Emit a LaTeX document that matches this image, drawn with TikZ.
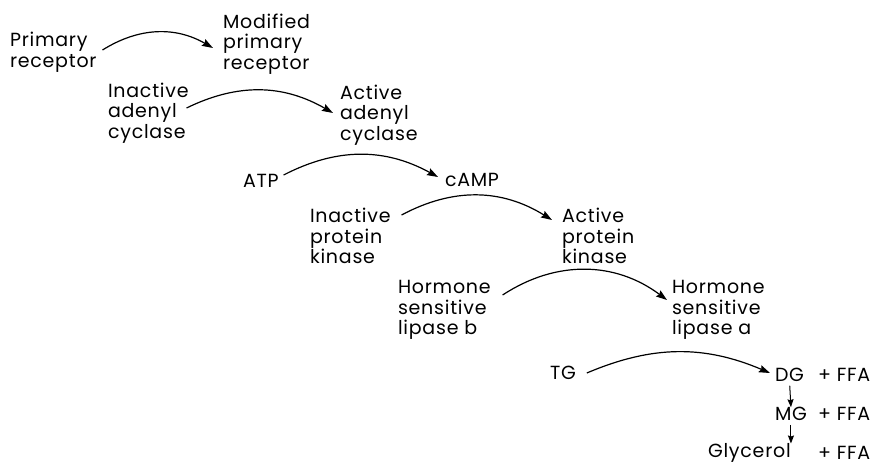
\documentclass[tikz,border=0pt]{standalone}
\usepackage{fontspec}
\setmainfont{Poppins}[LetterSpace=4]
\usetikzlibrary{arrows.meta}
\begin{document}
\begin{tikzpicture}[x=1pt, y=-1pt,
		lbl/.style={align=left, anchor=west, inner sep=0pt, outer sep=0pt, font=\fontsize{19}{20.5}\selectfont},
		react/.style={-{Stealth[length=11pt, width=7.5pt, inset=1.5pt]}, line width=1.2pt}]
	\useasboundingbox (0,0) rectangle (883,468);
	% substrates on the left, products on the right
	\foreach \x/\y/\txt [count = \xi] in {10/52/{Primary\\receptor}, 108/113/{Inactive\\adenyl\\cyclase}, 243/181/{ATP}, 310/236/{Inactive\\protein\\kinase}, 398/310/{Hormone\\sensitive\\lipase b}, 550/373/{TG}}
		{
			\node[lbl] (from\xi) at (\x,\y) {\txt};
		}
	\foreach \x/\y/\txt [count = \xi] in {223/44/{Modified\\primary\\receptor}, 340/115/{Active\\adenyl\\cyclase}, 445/180/{cAMP}, 562/236/{Active\\protein\\kinase}, 672/310/{Hormone\\sensitive\\lipase a}, 775/375/{DG}}
		{
			\node[lbl] (to\xi) at (\x,\y) {\txt};
		}
	\node[lbl] (mg) at (775,414) {MG};
	\node[lbl] (glycerol) at (708,453) {Glycerol};
	\foreach \y [count = \xi] in {375, 414, 453}
		{
			\node[lbl] (ffa\xi) at (818,\y) {+ FFA};
		}
	% cascade steps
	\draw[react] ([xshift=6pt, yshift=2pt]from1.east) to[bend left=31] ([xshift=-10pt, yshift=-4pt]to1.west);
	\draw[react] ([xshift=-2pt, yshift=5pt]from2.east) to[bend left=28] ([xshift=-7pt, yshift=2pt]to2.west);
	\draw[react] ([xshift=5pt, yshift=6pt]from3.east) to[bend left=28] ([xshift=-7pt, yshift=3pt]to3.west);
	\draw[react] ([xshift=11pt, yshift=21pt]from4.east) to[bend left=30] ([xshift=-10pt, yshift=16pt]to4.west);
	\draw[react] ([xshift=12pt, yshift=15pt]from5.east) to[bend left=35] ([xshift=-5pt, yshift=10pt]to5.west);
	\draw[react] ([xshift=11pt]from6.east) to[bend left=23] ([xshift=-5pt, yshift=2pt]to6.west);
	% lipolysis down to glycerol
	\draw[react, -{Stealth[length=8pt, width=6pt, inset=1pt]}, line width=1pt, shorten <=4pt] (to6.south) -- (mg.north);
	\draw[react, -{Stealth[length=8pt, width=6pt, inset=1pt]}, line width=1pt, shorten <=4pt] (mg.south) -- (mg.south |- glycerol.north);
\end{tikzpicture}
\end{document}
